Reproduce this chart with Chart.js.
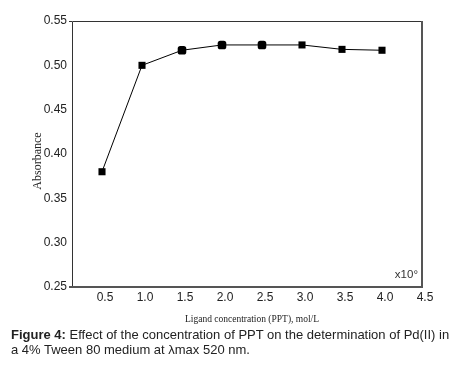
<!DOCTYPE html>
<html>
<head>
<meta charset="utf-8">
<script src="https://cdn.jsdelivr.net/npm/chart.js@4/dist/chart.umd.min.js"></script>
<style>
  html, body { margin: 0; padding: 0; background: #fff; }
  #wrap { position: relative; width: 456px; height: 373px; }
  #c { position: absolute; left: 0; top: 0; }
  #cap { position: absolute; left: 11px; top: 327px; width: 445px; font-family: Arial, "Liberation Sans", sans-serif; font-size: 13px; line-height: 15px; color: #222; white-space: nowrap; }
</style>
</head>
<body>
<div id="wrap">
  <canvas id="c" width="456" height="373"></canvas>
  <div id="cap"><b>Figure 4:</b> Effect of the concentration of PPT on the determination of Pd(II) in<br>a 4% Tween 80 medium at λmax 520 nm.</div>
</div>
<script>
const concentrations = [0.5, 1.0, 1.5, 2.0, 2.5, 3.0, 3.5, 4.0];
const absorbance = [0.38, 0.50, 0.517, 0.523, 0.523, 0.523, 0.518, 0.517];
const xTickValues = [0.5, 1.0, 1.5, 2.0, 2.5, 3.0, 3.5, 4.0, 4.5];
const yTickValues = [0.25, 0.30, 0.35, 0.40, 0.45, 0.50, 0.55];
const xTitle = "Ligand concentration (PPT), mol/L";
const yTitle = "Absorbance";
const multiplierText = "x10°";

const points = concentrations.map((x, i) => ({ x: x, y: absorbance[i] }));

const framePlugin = {
  id: 'frame',
  afterDraw(chart) {
    const ctx = chart.ctx;
    const a = chart.chartArea;
    ctx.save();
    // left & top thin (top extends left as a short tick)
    ctx.strokeStyle = '#333';
    ctx.lineWidth = 1;
    ctx.beginPath();
    ctx.moveTo(a.left + 0.5, a.bottom);
    ctx.lineTo(a.left + 0.5, a.top + 0.5);
    ctx.lineTo(a.right, a.top + 0.5);
    ctx.moveTo(a.left - 3, a.top + 0.5);
    ctx.lineTo(a.left, a.top + 0.5);
    ctx.stroke();
    // right & bottom thicker
    ctx.strokeStyle = '#555';
    ctx.lineWidth = 2;
    ctx.beginPath();
    ctx.moveTo(a.right, a.top);
    ctx.lineTo(a.right, a.bottom);
    ctx.lineTo(a.left - 3, a.bottom);
    ctx.stroke();
    // multiplier
    ctx.fillStyle = '#333';
    ctx.font = '11.5px Arial, "Liberation Sans", sans-serif';
    ctx.textAlign = 'right';
    ctx.textBaseline = 'middle';
    ctx.fillText(multiplierText, a.right - 4, a.bottom - 12);
    // y title
    ctx.save();
    ctx.translate(38, 161);
    ctx.rotate(-Math.PI / 2);
    ctx.font = '12px "Liberation Serif", "Times New Roman", serif';
    ctx.textAlign = 'center';
    ctx.fillStyle = '#222';
    ctx.fillText(yTitle, 0, 0);
    ctx.restore();
    // x title
    ctx.font = '9.5px "Liberation Serif", "Times New Roman", serif';
    ctx.textAlign = 'center';
    ctx.fillStyle = '#222';
    ctx.fillText(xTitle, 252, 319);
    ctx.restore();
  }
};

new Chart(document.getElementById('c'), {
  type: 'line',
  data: {
    datasets: [{
      data: points,
      borderColor: '#000',
      borderWidth: 1,
      backgroundColor: '#000',
      pointBackgroundColor: '#000',
      pointBorderColor: '#000',
      pointStyle: ['rect', 'rect', 'rectRounded', 'rectRounded', 'rectRounded', 'rect', 'rect', 'rect'],
      pointRadius: 5,
      pointBorderWidth: 0,
      tension: 0,
      clip: false
    }]
  },
  options: {
    responsive: false,
    animation: false,
    events: [],
    layout: { padding: { left: 0, top: 21, right: 34, bottom: 0 } },
    plugins: { legend: { display: false }, tooltip: { enabled: false } },
    scales: {
      x: {
        type: 'linear',
        min: 0.125,
        max: 4.5,
        afterBuildTicks(scale) { scale.ticks = xTickValues.map(v => ({ value: v })); },
        afterFit(scale) { scale.height = 86; },
        grid: { display: false, drawTicks: false },
        border: { display: false },
        ticks: {
          color: '#222',
          font: { family: 'Arial, "Liberation Sans", sans-serif', size: 12 },
          padding: 3,
          labelOffset: 3,
          maxRotation: 0,
          autoSkip: false,
          callback: v => Number(v).toFixed(1)
        }
      },
      y: {
        type: 'linear',
        min: 0.25,
        max: 0.55,
        afterBuildTicks(scale) { scale.ticks = yTickValues.map(v => ({ value: v })); },
        afterFit(scale) { scale.width = 72; },
        grid: { display: false, drawTicks: false },
        border: { display: false },
        ticks: {
          color: '#222',
          font: { family: 'Arial, "Liberation Sans", sans-serif', size: 12 },
          padding: 5,
          autoSkip: false,
          callback: v => Number(v).toFixed(2)
        }
      }
    }
  },
  plugins: [framePlugin]
});
</script>
</body>
</html>
